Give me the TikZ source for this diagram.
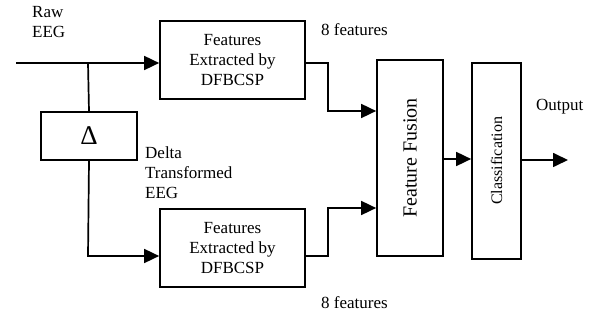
\documentclass[tikz,border=0pt]{standalone}
\usepackage{fontspec}
\setmainfont{Liberation Serif}
\usetikzlibrary{arrows.meta}

\tikzset{
    blk/.style={draw, line width=1.7pt, inner sep=0pt, align=center,
        font=\fontsize{17}{20}\selectfont},
    lbl/.style={anchor=west, inner sep=0pt, align=left,
        font=\fontsize{17}{20}\selectfont},
    wire/.style={line width=1.7pt, -{Triangle[length=15pt,width=14pt]}},
    plain/.style={line width=1.7pt}
}

\begin{document}
\begin{tikzpicture}[x=1pt, y=-1pt]
    \useasboundingbox (0,0) rectangle (600,320);
    % blocks
    \node[blk, minimum width=145pt, minimum height=78pt] (top) at (232.5,60) {Features\\Extracted by\\DFBCSP};
    \node[blk, minimum width=145pt, minimum height=78pt] (bot) at (232.5,248) {Features\\Extracted by\\DFBCSP};
    \node[blk, minimum width=96pt, minimum height=48pt, font=\fontsize{27}{29}\selectfont] (delta) at (89,136) {Δ};
    \node[blk, minimum width=66pt, minimum height=196pt] (fus) at (410,158) {};
    \node[rotate=90, font=\fontsize{20}{22}\selectfont] at (fus) {Feature Fusion};
    \node[blk, minimum width=49pt, minimum height=196pt] (cls) at (496.5,161) {};
    \node[rotate=90, font=\fontsize{16}{18}\selectfont] at (cls) {Classification};
    % labels
    \node[lbl] (raw) at (32,22) {Raw\\EEG};
    \node[lbl] (dte) at (145,173) {Delta\\Transformed\\EEG};
    \node[lbl] (f1) at (321,30) {8 features};
    \node[lbl] (f2) at (321,303) {8 features};
    \node[lbl] (out) at (536,107) {Output};
    % connections
    \coordinate (in) at (16,63);
    \coordinate (j) at (88,63);
    \coordinate (tb) at (88,256);
    \coordinate (end) at (568,160);
    \draw[wire] (in) -- (in -| top.west);
    \draw[plain] (j) -- (delta.north);
    \draw[wire] (delta.south) -- (tb) -- (tb -| bot.west);
    \draw[wire] (top.east |- in) -- (328,63) -- (328,111) -- (fus.west |- 0,111);
    \draw[wire] (bot.east |- tb) -- (328,256) -- (328,208) -- (fus.west |- 0,208);
    \draw[wire] (fus.east |- 0,159) -- (cls.west |- 0,159);
    \draw[wire] (cls.east |- end) -- (end);
\end{tikzpicture}
\end{document}
